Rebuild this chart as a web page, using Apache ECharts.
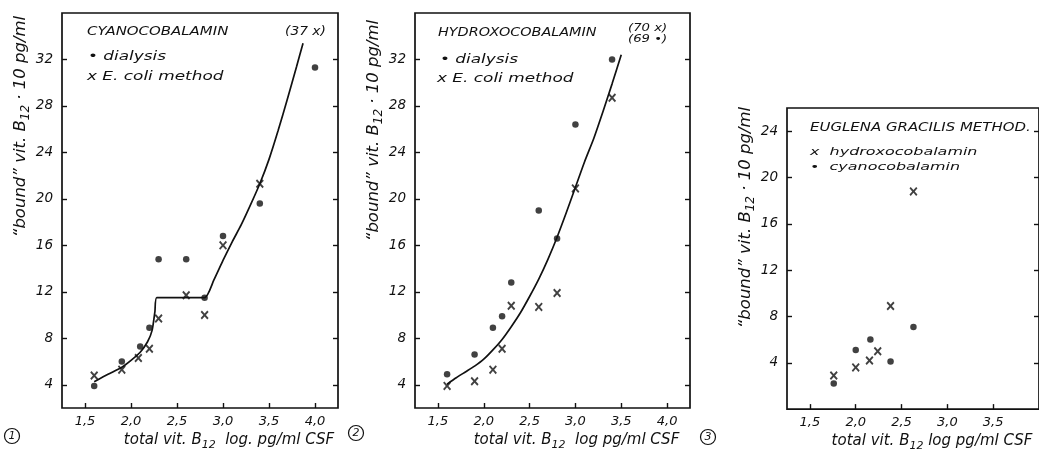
<!DOCTYPE html>
<html>
<head>
<meta charset="utf-8">
<script src="https://cdn.jsdelivr.net/npm/echarts@6/dist/echarts.min.js"></script>
<style>
  html, body { margin: 0; padding: 0; background: #fff; }
  #chart { width: 1039px; height: 457px; }
</style>
</head>
<body>
<div id="chart"></div>
<script>
// ticks
const xTicks = [1.5, 2.0, 2.5, 3.0, 3.5, 4.0]
const xTicks3 = [1.5, 2.0, 2.5, 3.0, 3.5]
const yTicks = [4, 8, 12, 16, 20, 24, 28, 32]
const yTicks3 = [4, 8, 12, 16, 20, 24]

// panel 1 - cyanocobalamin
const p1Dialysis = [[1.6, 3.9], [1.9, 6.0], [2.1, 7.3], [2.2, 8.9], [2.3, 14.8], [2.6, 14.8], [2.8, 11.5], [3.0, 16.8], [3.4, 19.6], [4.0, 31.3]]
const p1Ecoli = [[1.6, 4.8], [1.9, 5.3], [2.08, 6.3], [2.2, 7.1], [2.3, 9.7], [2.6, 11.7], [2.8, 10.0], [3.0, 16.0], [3.4, 21.3]]
const p1Curve = [[1.6, 4.25], [1.75, 4.9], [1.9, 5.5], [2.0, 6.1], [2.1, 6.8], [2.18, 7.7], [2.23, 8.7], [2.26, 10.3], [2.28, 11.5],
  [2.8, 11.5], [2.9, 13.0], [3.0, 14.7], [3.1, 16.3], [3.2, 17.8], [3.3, 19.5], [3.4, 21.3], [3.5, 23.4], [3.6, 25.9], [3.7, 28.6], [3.8, 31.4], [3.87, 33.4]]

// panel 2 - hydroxocobalamin
const p2Dialysis = [[1.6, 4.9], [1.9, 6.6], [2.1, 8.9], [2.2, 9.9], [2.3, 12.8], [2.6, 19.0], [2.8, 16.6], [3.0, 26.4], [3.4, 32.0]]
const p2Ecoli = [[1.6, 3.9], [1.9, 4.3], [2.1, 5.3], [2.2, 7.1], [2.3, 10.8], [2.6, 10.7], [2.8, 11.9], [3.0, 20.9], [3.4, 28.7]]
const p2Curve = [[1.6, 4.05], [1.7, 4.6], [1.8, 5.1], [1.9, 5.6], [2.0, 6.2], [2.1, 7.0], [2.2, 7.9], [2.3, 9.0], [2.4, 10.2], [2.5, 11.6],
  [2.6, 13.1], [2.7, 14.8], [2.8, 16.7], [2.9, 18.8], [3.0, 21.0], [3.1, 23.2], [3.2, 25.2], [3.3, 27.5], [3.4, 29.9], [3.5, 32.4]]

// panel 3 - euglena gracilis
const p3Hydroxo = [[1.76, 2.9], [2.0, 3.6], [2.15, 4.2], [2.24, 5.0], [2.38, 8.9], [2.63, 18.8]]
const p3Cyano = [[1.76, 2.2], [2.0, 5.1], [2.16, 6.0], [2.38, 4.1], [2.63, 7.1]]

const FONT = "DejaVu Sans"
const INK = "#111"
const crossIcon = "path://M0,1.6L1.6,0L5,3.4L8.4,0L10,1.6L6.6,5L10,8.4L8.4,10L5,6.6L1.6,10L0,8.4L3.4,5Z"

const comma = v => v.toFixed(1).replace(".", ",")

function xAx(i, max, ticks, name, shift) {
  return {
    type: "value", gridIndex: i, min: 1.25, max: max,
    axisLine: { show: false },
    splitLine: { show: false },
    axisTick: { inside: true, length: 5, lineStyle: { color: INK, width: 1.4 }, customValues: ticks },
    axisLabel: { customValues: ticks, formatter: comma, color: INK, fontFamily: FONT, fontStyle: "italic", fontSize: 13, margin: 7 },
    name: name, nameLocation: "middle", nameGap: 12,
    nameTextStyle: {
      color: INK, fontFamily: FONT, fontStyle: "italic", fontSize: 15, padding: [0, 0, 0, shift],
      rich: { sub: { fontFamily: FONT, fontStyle: "italic", fontSize: 11, color: INK, padding: [10, 0, 0, 0] } }
    }
  }
}

function yAx(i, min, max, ticks, shift) {
  return {
    type: "value", gridIndex: i, min: min, max: max,
    axisLine: { show: false },
    splitLine: { show: false },
    axisTick: { inside: true, length: 5, lineStyle: { color: INK, width: 1.4 }, customValues: ticks },
    axisLabel: { customValues: ticks, color: INK, fontFamily: FONT, fontStyle: "italic", fontSize: 13.5, margin: 9 },
    name: "\u201cbound\u201d vit. B{sub|12} \u00b7 10 pg/ml", nameLocation: "middle", nameGap: 25, nameRotate: 90,
    nameTextStyle: {
      color: INK, fontFamily: FONT, fontStyle: "italic", fontSize: 16.5, padding: [0, 0, 0, shift],
      rich: { sub: { fontFamily: FONT, fontStyle: "italic", fontSize: 12, color: INK, padding: [10, 0, 0, 0] } }
    }
  }
}

function yRight(i, min, max, ticks) {
  return {
    type: "value", gridIndex: i, min: min, max: max, position: "right",
    axisLine: { show: false }, splitLine: { show: false },
    axisTick: { inside: true, length: 5, lineStyle: { color: INK, width: 1.4 }, customValues: ticks },
    axisLabel: { show: false }
  }
}

function dots(name, data, xi, yi) {
  return { type: "scatter", name: name, data: data, xAxisIndex: xi, yAxisIndex: yi, symbol: "circle", symbolSize: 6.5,
    itemStyle: { color: INK }, z: 3 }
}
function crosses(name, data, xi, yi) {
  return { type: "scatter", name: name, data: data, xAxisIndex: xi, yAxisIndex: yi, symbol: crossIcon, symbolSize: [8, 9],
    itemStyle: { color: INK }, z: 3 }
}
function curve(data, xi, yi) {
  return { type: "line", data: data, xAxisIndex: xi, yAxisIndex: yi, showSymbol: false, smooth: 0.2,
    lineStyle: { color: INK, width: 1.7 }, z: 2 }
}

function label(text, x, y, size, sx) {
  return { type: "text", x: x, y: y, scaleX: sx, silent: true,
    style: { text: text, fill: INK, font: "italic " + size + "px '" + FONT + "'", verticalAlign: "middle" } }
}
function circled(text, x, y) {
  return { type: "group", x: x, y: y, children: [
    { type: "circle", shape: { cx: 0, cy: 0, r: 7.5 }, style: { fill: "none", stroke: INK, lineWidth: 1.2 } },
    { type: "text", style: { text: text, x: 0, y: 0.5, fill: INK, font: "italic 11px '" + FONT + "'", align: "center", verticalAlign: "middle" } }
  ] }
}

const gridStyle = { show: true, borderColor: INK, borderWidth: 1.7, backgroundColor: "transparent" }

const option = {
  animation: false,
  grid: [
    Object.assign({ left: 62, top: 13, width: 276, height: 395 }, gridStyle),
    Object.assign({ left: 415, top: 13, width: 275, height: 395 }, gridStyle),
    Object.assign({ left: 787, top: 108, width: 255, height: 302 }, gridStyle)
  ],
  xAxis: [
    xAx(0, 4.25, xTicks, "total vit. B{sub|12}  log. pg/ml CSF", 58),
    xAx(1, 4.25, xTicks, "total vit. B{sub|12}  log pg/ml CSF", 48),
    xAx(2, 4.0, xTicks3, "total vit. B{sub|12} log pg/ml CSF", 38)
  ],
  yAxis: [
    yAx(0, 2, 36, yTicks, 168),
    yAx(1, 2, 36, yTicks, 160),
    yAx(2, 0, 26, yTicks3, 82),
    yRight(0, 2, 36, yTicks),
    yRight(1, 2, 36, yTicks),
    yRight(2, 0, 26, yTicks3)
  ],
  series: [
    curve(p1Curve, 0, 0),
    dots("dialysis", p1Dialysis, 0, 0),
    crosses("E. coli method", p1Ecoli, 0, 0),
    curve(p2Curve, 1, 1),
    dots("dialysis", p2Dialysis, 1, 1),
    crosses("E. coli method", p2Ecoli, 1, 1),
    crosses("hydroxocobalamin", p3Hydroxo, 2, 2),
    dots("cyanocobalamin", p3Cyano, 2, 2)
  ],
  graphic: [
    label("CYANOCOBALAMIN", 87, 32, 11.5, 1.3),
    label("(37 x)", 285, 32, 11.5, 1.2),
    label("\u2022 dialysis", 88, 57, 13, 1.3),
    label("x E. coli method", 87, 77, 13, 1.3),
    label("HYDROXOCOBALAMIN", 438, 33, 11.5, 1.25),
    label("(70 x)", 628, 28, 11, 1.2),
    label("(69 \u2022)", 628, 39, 11, 1.2),
    label("\u2022 dialysis", 440, 60, 13, 1.3),
    label("x E. coli method", 437, 79, 13, 1.3),
    label("EUGLENA GRACILIS METHOD.", 810, 128, 11.5, 1.3),
    label("x  hydroxocobalamin", 810, 152, 11, 1.45),
    label("\u2022  cyanocobalamin", 810, 167, 11, 1.45),
    circled("1", 12, 436),
    circled("2", 356, 433),
    circled("3", 708, 437)
  ]
}

const chart = echarts.init(document.getElementById("chart"), null, { renderer: "canvas" })
chart.setOption(option)
</script>
</body>
</html>
